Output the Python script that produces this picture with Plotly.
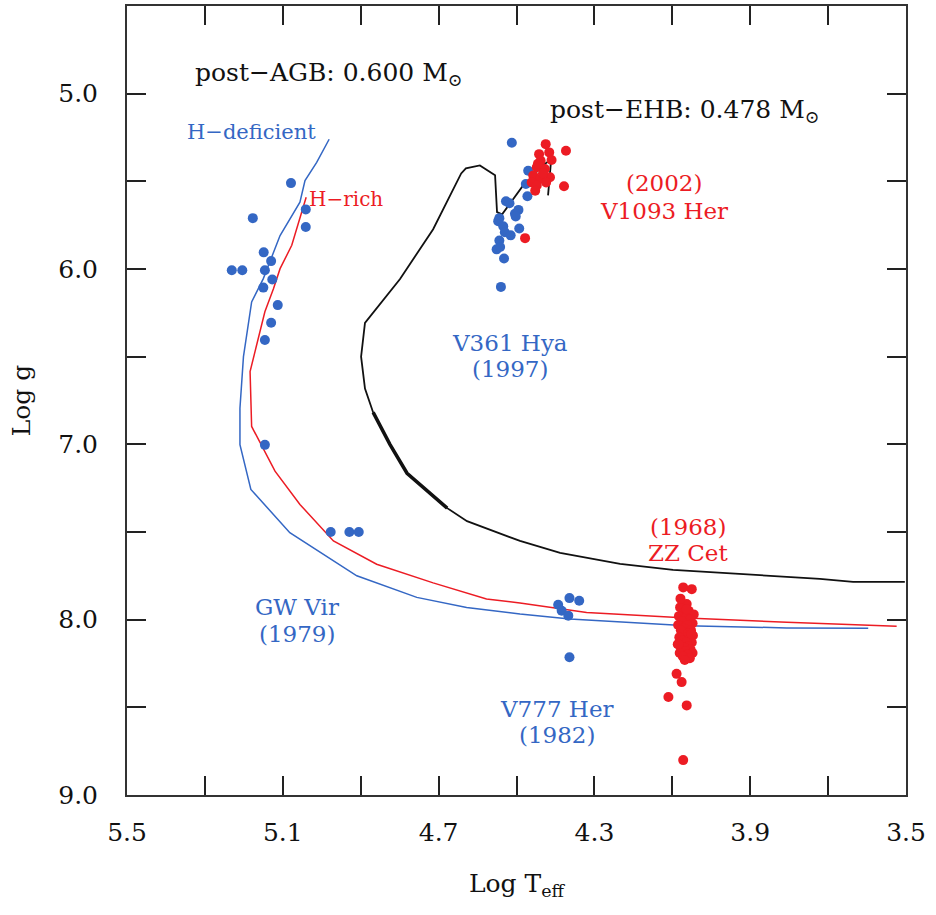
import plotly.graph_objects as go

# Evolutionary tracks (log Teff, log g)
ehb_t = [4.419, 4.411, 4.440, 4.461, 4.483, 4.537, 4.550, 4.555, 4.594, 4.630, 4.642,
         4.714, 4.799, 4.889, 4.899, 4.889, 4.868, 4.825, 4.781, 4.678, 4.627, 4.491,
         4.388, 4.234, 4.098, 3.893, 3.721, 3.636, 3.503]
ehb_g = [5.580, 5.375, 5.420, 5.487, 5.523, 5.688, 5.676, 5.466, 5.409, 5.426, 5.455,
         5.773, 6.057, 6.307, 6.500, 6.682, 6.818, 7.000, 7.165, 7.364, 7.438, 7.551,
         7.619, 7.682, 7.716, 7.744, 7.767, 7.784, 7.784]
# segment of the post-EHB track drawn heavier
ehb_thick_t = [4.868, 4.825, 4.781, 4.678]
ehb_thick_g = [6.818, 7.000, 7.165, 7.364]

hdef_t = [4.981, 5.013, 5.043, 5.056, 5.107, 5.150, 5.180, 5.201, 5.210, 5.210, 5.182,
          5.082, 4.910, 4.756, 4.628, 4.491, 4.363, 4.063, 3.806, 3.597]
hdef_g = [5.260, 5.392, 5.496, 5.619, 5.809, 6.055, 6.188, 6.500, 6.794, 7.002, 7.257,
          7.504, 7.750, 7.873, 7.930, 7.968, 7.996, 8.034, 8.047, 8.049]

hrich_t = [5.040, 5.077, 5.107, 5.124, 5.146, 5.184, 5.180, 5.120, 5.056, 4.970, 4.859,
           4.714, 4.577, 4.491, 4.320, 4.063, 3.806, 3.524]
hrich_g = [5.591, 5.865, 5.998, 6.112, 6.244, 6.585, 6.898, 7.153, 7.343, 7.551, 7.684,
           7.790, 7.882, 7.905, 7.959, 7.990, 8.015, 8.038]

# Pulsators
gwvir_t = [5.079, 5.177, 5.041, 5.041, 5.149, 5.130, 5.231, 5.204, 5.146, 5.127, 5.150,
           5.113, 5.130, 5.146, 5.146, 4.977, 4.929, 4.905]
gwvir_g = [5.510, 5.710, 5.660, 5.760, 5.905, 5.955, 6.007, 6.007, 6.007, 6.060, 6.106,
           6.206, 6.307, 6.405, 7.003, 7.500, 7.500, 7.500]

v361_t = [4.512, 4.470, 4.476, 4.472, 4.527, 4.518, 4.495, 4.504, 4.502, 4.544, 4.547,
          4.534, 4.493, 4.530, 4.515, 4.544, 4.551, 4.542, 4.532, 4.540]
v361_g = [5.280, 5.440, 5.515, 5.585, 5.614, 5.625, 5.663, 5.685, 5.700, 5.710, 5.727,
          5.756, 5.769, 5.790, 5.808, 5.837, 5.888, 5.875, 5.940, 6.102]

v1093_t = [4.425, 4.373, 4.442, 4.416, 4.438, 4.410, 4.448, 4.427, 4.457, 4.414, 4.440,
           4.461, 4.448, 4.424, 4.378, 4.452, 4.478, 4.432, 4.445]
v1093_g = [5.288, 5.326, 5.345, 5.335, 5.383, 5.378, 5.420, 5.430, 5.467, 5.477, 5.487,
           5.506, 5.524, 5.506, 5.528, 5.553, 5.824, 5.455, 5.400]

v777_t = [4.393, 4.364, 4.339, 4.384, 4.367, 4.364]
v777_g = [7.915, 7.877, 7.892, 7.949, 7.977, 8.214]

zz_t = [4.072, 4.050, 4.063, 4.080, 4.058, 4.070, 4.045, 4.083, 4.066, 4.055, 4.075,
        4.048, 4.062, 4.085, 4.071, 4.052, 4.078, 4.060, 4.047, 4.068, 4.082, 4.056,
        4.074, 4.050, 4.064, 4.086, 4.059, 4.070, 4.053, 4.077, 4.066, 4.048, 4.081,
        4.061, 4.073, 4.055, 4.068, 4.084, 4.051, 4.063, 4.079, 4.089, 4.076, 4.110,
        4.063, 4.072]
zz_g = [7.816, 7.826, 7.911, 7.930, 7.950, 7.960, 7.970, 7.980, 7.990, 8.000, 8.010,
        8.020, 8.030, 8.030, 8.050, 8.060, 8.060, 8.080, 8.090, 8.100, 8.100, 8.110,
        8.120, 8.130, 8.130, 8.140, 8.150, 8.160, 8.170, 8.170, 8.180, 8.190, 8.190,
        8.200, 8.210, 8.220, 8.230, 8.140, 8.080, 7.940, 7.880, 8.309, 8.356, 8.441,
        8.489, 8.801]

x_ticks = [5.5, 5.1, 4.7, 4.3, 3.9, 3.5]
y_ticks = [5.0, 6.0, 7.0, 8.0, 9.0]

BLUE = "#3467c4"
RED = "#ec1c24"
INK = "#111111"
FONT = "DejaVu Serif"

fig = go.Figure()


def line(x, y, color, width):
    fig.add_trace(go.Scatter(x=x, y=y, mode="lines",
                             line=dict(color=color, width=width), hoverinfo="skip"))


def dots(x, y, color):
    fig.add_trace(go.Scatter(x=x, y=y, mode="markers",
                             marker=dict(color=color, size=10, line=dict(width=0))))


line(hdef_t, hdef_g, BLUE, 1.5)
line(hrich_t, hrich_g, RED, 1.5)
line(ehb_t, ehb_g, INK, 1.8)
line(ehb_thick_t, ehb_thick_g, INK, 3.5)

dots(gwvir_t, gwvir_g, BLUE)
dots(v361_t, v361_g, BLUE)
dots(v777_t, v777_g, BLUE)
dots(v1093_t, v1093_g, RED)
dots(zz_t, zz_g, RED)


def label(x, y, text, color, size=23, xanchor="center"):
    fig.add_annotation(x=x, y=y, xref="x", yref="y", text=text, showarrow=False,
                       font=dict(family=FONT, size=size, color=color), xanchor=xanchor)


label(5.33, 4.89, "post−AGB: 0.600 M<sub>⊙</sub>", INK, 25, "left")
label(4.42, 5.10, "post−EHB: 0.478 M<sub>⊙</sub>", INK, 25, "left")
label(5.35, 5.22, "H−deficient", BLUE, 21, "left")
label(5.037, 5.60, "H−rich", RED, 20, "left")
label(4.121, 5.51, "(2002)", RED)
label(4.121, 5.67, "V1093 Her", RED)
label(4.517, 6.42, "V361 Hya", BLUE)
label(4.517, 6.57, "(1997)", BLUE)
label(4.060, 7.47, "(1968)", RED)
label(4.060, 7.62, "ZZ Cet", RED)
label(5.063, 7.93, "GW Vir", BLUE)
label(5.063, 8.08, "(1979)", BLUE)
label(4.397, 8.51, "V777 Her", BLUE)
label(4.397, 8.66, "(1982)", BLUE)

axis_common = dict(
    showgrid=False, zeroline=False, showline=True, linecolor="#333333", linewidth=2,
    mirror="ticks", ticks="inside", ticklen=19, tickwidth=1.5, tickcolor="#222222",
    tickfont=dict(family=FONT, size=25, color=INK),
)

fig.update_xaxes(
    range=[5.5, 3.5], tickvals=x_ticks, ticktext=[f"{v:.1f}" for v in x_ticks],
    minor=dict(dtick=0.2, tick0=5.5, ticks="inside", ticklen=19, tickwidth=1.5,
               tickcolor="#222222", showgrid=False),
    ticklabelstandoff=14,
    title=dict(text="Log T<sub>eff</sub>", font=dict(family=FONT, size=25, color=INK),
               standoff=28),
    **axis_common,
)
fig.update_yaxes(
    range=[9.0, 4.5], tickvals=y_ticks, ticktext=[f"{v:.1f}" for v in y_ticks],
    minor=dict(dtick=0.5, tick0=4.5, ticks="inside", ticklen=19, tickwidth=1.5,
               tickcolor="#222222", showgrid=False),
    ticklabelstandoff=22,
    title=dict(text="Log g", font=dict(family=FONT, size=25, color=INK),
               standoff=20),
    **axis_common,
)

fig.update_layout(
    width=936, height=915, showlegend=False,
    margin=dict(l=127, r=30, t=4, b=120),
    paper_bgcolor="white", plot_bgcolor="white",
)

fig.write_html("out.html")
